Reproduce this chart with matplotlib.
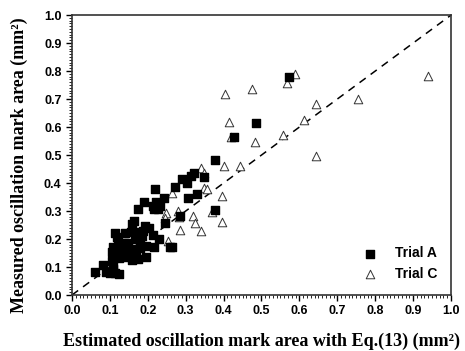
import matplotlib.pyplot as plt
import numpy as np
from matplotlib.ticker import MultipleLocator

# Trial A (filled squares)
trial_a_x = [0.573, 0.485, 0.428, 0.378, 0.348, 0.322, 0.313, 0.290, 0.303, 0.273,
             0.218, 0.243, 0.306, 0.331, 0.189, 0.222, 0.213, 0.232, 0.217, 0.228,
             0.174, 0.377, 0.285, 0.246, 0.163, 0.158, 0.192, 0.204, 0.113, 0.140,
             0.155, 0.176, 0.188, 0.215, 0.118, 0.185, 0.230, 0.121, 0.136, 0.149,
             0.167, 0.180, 0.195, 0.217, 0.131, 0.145, 0.158, 0.106, 0.122, 0.137,
             0.153, 0.169, 0.180, 0.259, 0.265, 0.107, 0.123, 0.158, 0.175, 0.195,
             0.144, 0.105, 0.081, 0.109, 0.061, 0.090, 0.100, 0.113, 0.125, 0.109]
trial_a_y = [0.780, 0.613, 0.563, 0.482, 0.423, 0.435, 0.426, 0.414, 0.401, 0.385,
             0.377, 0.345, 0.348, 0.361, 0.331, 0.331, 0.318, 0.318, 0.306, 0.306,
             0.307, 0.304, 0.283, 0.258, 0.264, 0.254, 0.248, 0.238, 0.223, 0.223,
             0.224, 0.224, 0.229, 0.215, 0.208, 0.211, 0.199, 0.192, 0.185, 0.187,
             0.201, 0.185, 0.175, 0.173, 0.173, 0.167, 0.163, 0.154, 0.149, 0.149,
             0.152, 0.154, 0.167, 0.173, 0.170, 0.173, 0.131, 0.126, 0.127, 0.137,
             0.137, 0.121, 0.107, 0.106, 0.081, 0.083, 0.080, 0.080, 0.074, 0.094]

# Trial C (open triangles)
trial_c_x = [0.588, 0.939, 0.567, 0.475, 0.405, 0.755, 0.644, 0.612, 0.415, 0.420,
             0.557, 0.483, 0.643, 0.401, 0.443, 0.341, 0.347, 0.347, 0.357, 0.265,
             0.397, 0.248, 0.280, 0.246, 0.282, 0.318, 0.370, 0.324, 0.396, 0.285,
             0.341, 0.253]
trial_c_y = [0.789, 0.782, 0.756, 0.735, 0.718, 0.699, 0.683, 0.627, 0.619, 0.565,
             0.571, 0.545, 0.496, 0.461, 0.461, 0.452, 0.435, 0.383, 0.377, 0.363,
             0.354, 0.292, 0.299, 0.274, 0.277, 0.282, 0.295, 0.256, 0.262, 0.232,
             0.230, 0.193]

fig = plt.figure(figsize=(4.65, 3.51), dpi=100)
ax = fig.add_axes([0.1548, 0.1595, 0.8151, 0.7975])

ax.plot([0, 1], [0, 1], color='black', linestyle=(0, (5, 4)), linewidth=1.1, zorder=1)
ax.scatter(trial_a_x, trial_a_y, marker='s', s=28, color='black', label='Trial A', zorder=3)
ax.scatter(trial_c_x, trial_c_y, marker='^', s=38, facecolors='white', edgecolors='#333333',
           linewidths=0.7, label='Trial C', zorder=2)

ax.set_xlim(0, 1)
ax.set_ylim(0, 1)
ticks = np.arange(0, 1.01, 0.1)
ax.set_xticks(ticks)
ax.set_yticks(ticks)
ax.xaxis.set_minor_locator(MultipleLocator(0.01))
ax.yaxis.set_minor_locator(MultipleLocator(0.01))
ax.tick_params(which='major', direction='out', length=4, width=1, top=False, right=False)
ax.tick_params(which='minor', direction='out', length=2, width=0.6, top=False, right=False)

tick_font = dict(family='Liberation Sans', weight='bold', size=9)
ax.set_xticklabels([f'{v:.1f}' for v in ticks], fontdict=tick_font)
ax.set_yticklabels([f'{v:.1f}' for v in ticks], fontdict=tick_font)

for sp in ax.spines.values():
    sp.set_linewidth(1.2)
    sp.set_color('#333333')

label_font = dict(family='Liberation Serif', weight='bold', size=13)
ax.set_xlabel('Estimated oscillation mark area with Eq.(13) (mm\u00b2)', fontdict=label_font)
ax.set_ylabel('Measured oscillation mark area (mm\u00b2)', fontdict=label_font)
ax.xaxis.set_label_coords(0.5, -0.135)
ax.yaxis.set_label_coords(-0.116, 0.465)

ax.legend(loc='lower right', frameon=False, prop=dict(family='Liberation Sans', weight='bold', size=10),
          handletextpad=0.8, borderaxespad=0.6, labelspacing=0.5)

fig.savefig('out.png', dpi=100)
